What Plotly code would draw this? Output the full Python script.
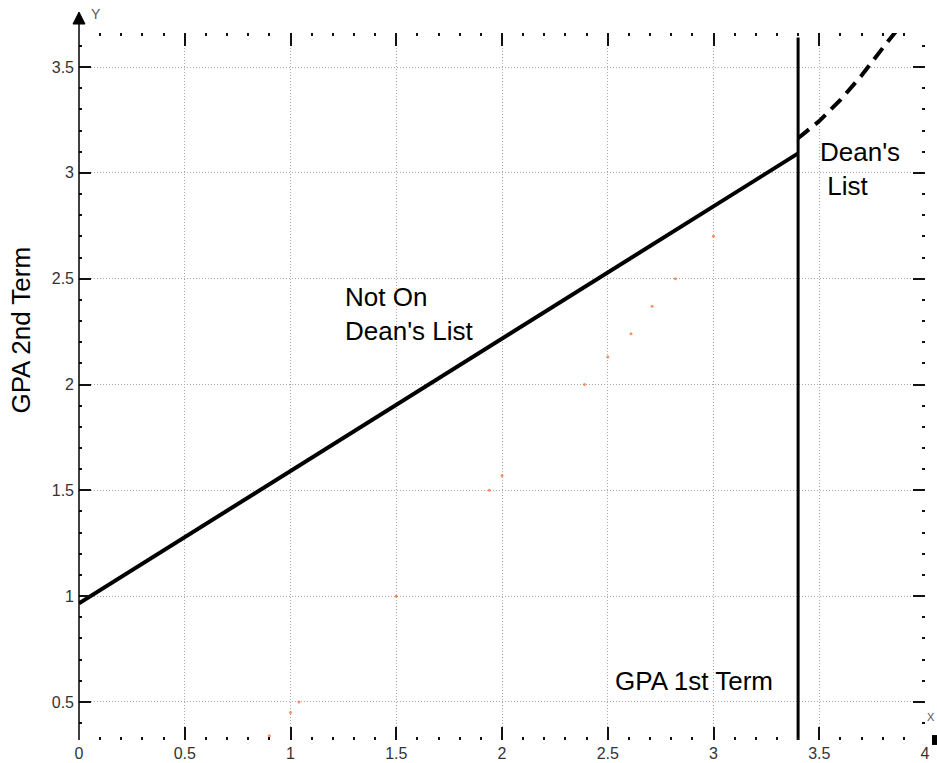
import plotly.graph_objects as go

# ---- data ----
reg_x = [0.0, 3.4]                 # fitted line (solid)
reg_y = [0.966, 3.092]
ext_x = [3.4, 3.5, 3.6, 3.7, 3.8, 3.88]   # extension above cutoff (dashed)
ext_y = [3.164, 3.245, 3.345, 3.46, 3.59, 3.69]
cut_x = [3.4, 3.4]                 # Dean's list cutoff (vertical)
cut_y = [0.32, 3.64]
pts_x = [0.90, 1.00, 1.04, 1.50, 1.94, 2.00, 2.39, 2.50, 2.61, 2.71, 2.82, 3.00]
pts_y = [0.34, 0.45, 0.50, 1.00, 1.50, 1.57, 2.00, 2.13, 2.24, 2.37, 2.50, 2.70]
x_ticks = [0, 0.5, 1, 1.5, 2, 2.5, 3, 3.5, 4]
x_labels = ["0", "0.5", "1", "1.5", "2", "2.5", "3", "3.5", "4"]
y_ticks = [0.5, 1, 1.5, 2, 2.5, 3, 3.5]
y_labels = ["0.5", "1", "1.5", "2", "2.5", "3", "3.5"]

FONT = "Arial, Liberation Sans, sans-serif"

fig = go.Figure()
fig.add_trace(go.Scatter(x=pts_x, y=pts_y, mode="markers",
                         marker=dict(size=3, color="#ff7a45", opacity=0.85),
                         hoverinfo="skip", showlegend=False))
fig.add_trace(go.Scatter(x=reg_x, y=reg_y, mode="lines",
                         line=dict(color="black", width=4), showlegend=False))
fig.add_trace(go.Scatter(x=ext_x, y=ext_y, mode="lines",
                         line=dict(color="black", width=4, dash="14px,8px"),
                         showlegend=False))
fig.add_trace(go.Scatter(x=cut_x, y=cut_y, mode="lines",
                         line=dict(color="black", width=3), showlegend=False))

axis_common = dict(
    showgrid=True, gridcolor="#a8a8a8", gridwidth=1, griddash="1px,2px",
    zeroline=False, showline=False, mirror="ticks",
    ticks="inside", tickcolor="#111", tickwidth=1.5,
    tickfont=dict(family=FONT, size=16, color="#333"),
    automargin=False,
)

fig.update_xaxes(range=[0, 4], tickvals=x_ticks, ticktext=x_labels, ticklen=13,
                 ticklabelstandoff=2,
                 minor=dict(dtick=0.1, ticks="inside", ticklen=3, tickwidth=2,
                            tickcolor="#111", showgrid=False),
                 **axis_common)
fig.update_yaxes(range=[0.3202, 3.661], tickvals=y_ticks, ticktext=y_labels, ticklen=12,
                 ticklabelstandoff=4,
                 minor=dict(dtick=0.1, ticks="inside", ticklen=3, tickwidth=2,
                            tickcolor="#111", showgrid=False),
                 **axis_common)

# y axis line with arrow
fig.add_shape(type="line", xref="paper", yref="paper", x0=0, x1=0, y0=0, y1=1.0127,
              line=dict(color="black", width=1.5))
fig.add_shape(type="path", xref="paper", yref="paper",
              path="M -0.0071,1.0127 L 0.0071,1.0127 L 0,1.0297 Z",
              fillcolor="black", line=dict(color="black", width=1))
# clipped x arrow at right edge
fig.add_shape(type="rect", xref="paper", yref="paper", x0=1.0083, x1=1.03, y0=-0.007, y1=0.007,
              fillcolor="black", line=dict(width=0))

ann = []
ann.append(dict(text="Y", xref="paper", yref="paper", x=0.0118, y=1.027,
                xanchor="left", yanchor="middle", showarrow=False,
                font=dict(family=FONT, size=14, color="#555")))
ann.append(dict(text="X", xref="paper", yref="paper", x=1.0, y=0.032,
                xanchor="left", yanchor="middle", showarrow=False,
                font=dict(family=FONT, size=11, color="#555")))
ann.append(dict(text="GPA 2nd Term", xref="paper", yref="paper", x=-0.0686, y=0.5805,
                xanchor="center", yanchor="middle", textangle=-90, showarrow=False,
                font=dict(family=FONT, size=26, color="black")))
ann.append(dict(text="GPA 1st Term", xref="x", yref="y", x=2.525, y=0.597,
                xanchor="left", yanchor="middle", showarrow=False,
                font=dict(family=FONT, size=26, color="black")))
ann.append(dict(text="Not On<br>Dean's List", xref="x", yref="y", x=1.248, y=2.333,
                xanchor="left", yanchor="middle", align="left", showarrow=False,
                font=dict(family=FONT, size=26, color="black")))
ann.append(dict(text="Dean's<br>\u00a0List", xref="x", yref="y", x=3.494, y=3.018,
                xanchor="left", yanchor="middle", align="left", showarrow=False,
                font=dict(family=FONT, size=26, color="black")))

fig.update_layout(
    width=937, height=763,
    margin=dict(l=79, r=12, t=33, b=23, pad=0),
    paper_bgcolor="white", plot_bgcolor="white",
    showlegend=False, annotations=ann,
)

fig.write_html("out.html", config={"displayModeBar": False},
               post_script="document.body.style.margin='0';document.body.style.padding='0';"
                           "document.body.style.overflow='hidden';")
